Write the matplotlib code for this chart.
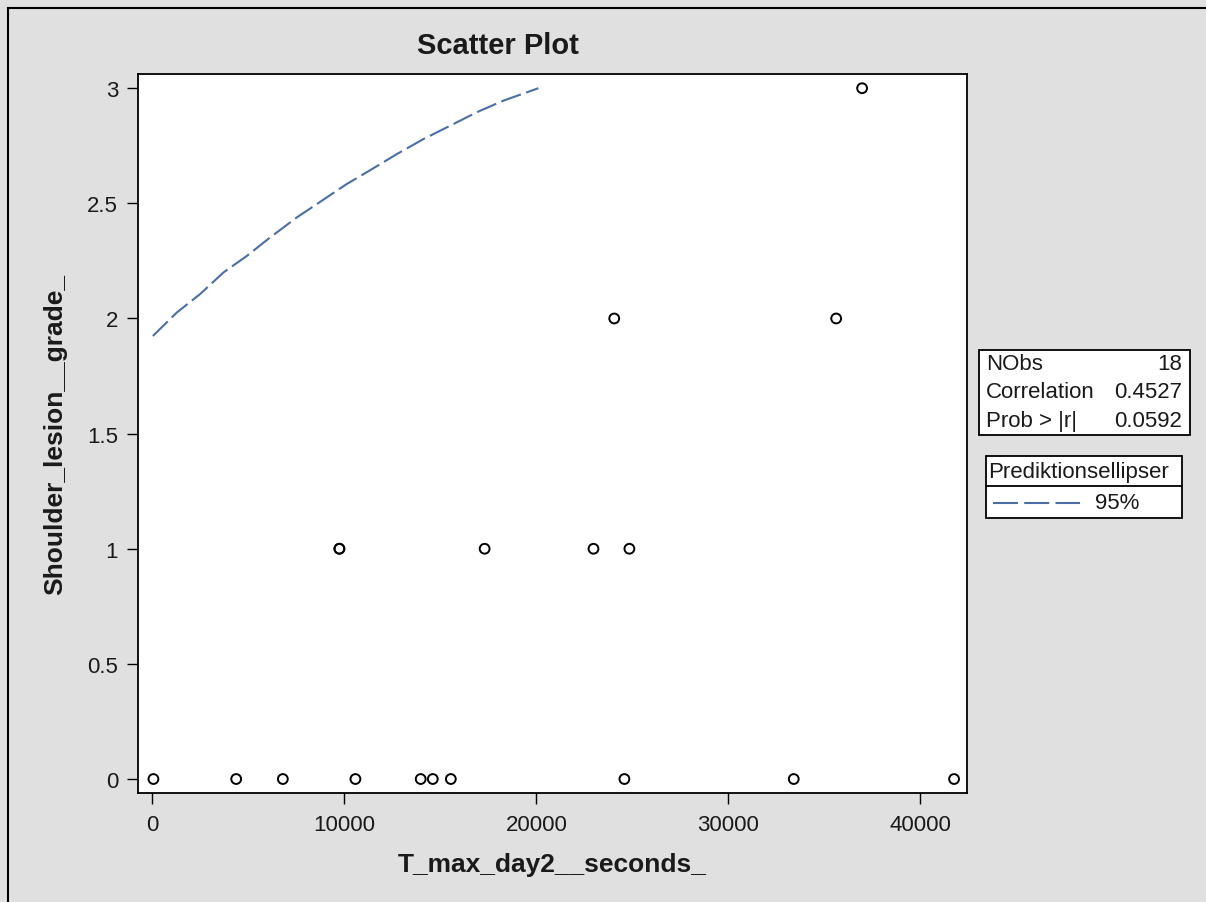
import matplotlib
matplotlib.use('Agg')
import matplotlib.pyplot as plt
from matplotlib.lines import Line2D
from matplotlib.patches import Rectangle

plt.rcParams['font.family'] = ['Liberation Sans', 'DejaVu Sans']
plt.rcParams['lines.scale_dashes'] = False

# data
x_vals = [50, 4360, 6790, 10570, 13970, 14600, 15540, 24580, 33400, 41750,
          9735, 9735, 17300, 22970, 24840,
          24050, 35610,
          36960]
y_vals = [0, 0, 0, 0, 0, 0, 0, 0, 0, 0,
          1, 1, 1, 1, 1,
          2, 2,
          3]

# visible part of the 95% prediction ellipse
ell_x = [20, 1270, 2480, 3700, 4920, 6130, 7520, 8690, 10120, 11300,
         12730, 14110, 15500, 16900, 18280, 20100]
ell_y = [1.924, 2.026, 2.106, 2.200, 2.272, 2.352, 2.439, 2.504, 2.584, 2.642,
         2.714, 2.779, 2.837, 2.896, 2.946, 3.000]

stat_names = ['NObs', 'Correlation', 'Prob > |r|']
stat_values = ['18', '0.4527', '0.0592']
legend_title = 'Prediktionsellipser'
legend_label = '95%'

x_ticks = [0, 10000, 20000, 30000, 40000]
y_ticks = [0, 0.5, 1, 1.5, 2, 2.5, 3]
y_ticklabels = ['0', '0.5', '1', '1.5', '2', '2.5', '3']

W, H = 1206, 903
bg = '#e0e0e0'
blue = '#4a6fa8'
txt = '#1a1a1a'


def fx(px):
    return px / W


def fy(py):
    return 1 - py / H


fig = plt.figure(figsize=(W / 100, H / 100), dpi=100, facecolor=bg)

# outer frame (only left and top are visible)
fig.add_artist(Line2D([fx(7.5), fx(7.5)], [fy(8.5), 0], color='black', lw=1.5))
fig.add_artist(Line2D([fx(7.5), 1], [fy(8.5), fy(8.5)], color='black', lw=1.5))

ax = fig.add_axes([fx(137.5), fy(794.3), (967.5 - 137.5) / W, (794.3 - 74.7) / H])
ax.set_facecolor('white')

ax.plot(ell_x, ell_y, color=blue, lw=1.5, dashes=(15, 4))
ax.scatter(x_vals, y_vals, s=50, facecolors='none', edgecolors='black',
           linewidths=1.4, zorder=3)

ax.set_xlim(-780, 42450)
ax.set_ylim(-0.062, 3.063)
ax.set_xticks(x_ticks)
ax.set_xticklabels([str(t) for t in x_ticks])
ax.set_yticks(y_ticks)
ax.set_yticklabels(y_ticklabels)
ax.tick_params(direction='out', length=8, width=1, labelsize=16,
               labelcolor=txt, color='black')
ax.tick_params(axis='x', pad=7)
ax.tick_params(axis='y', pad=6)
for s in ax.spines.values():
    s.set_linewidth(1.3)
    s.set_color('black')

ax.set_xlabel('T_max_day2__seconds_', fontsize=19, fontweight='bold',
              labelpad=12, color=txt)
ax.set_ylabel('Shoulder_lesion__grade_', fontsize=19, fontweight='bold',
              labelpad=14, color=txt)

fig.text(fx(498), fy(46), 'Scatter Plot', fontsize=21, fontweight='bold',
         ha='center', va='center', color=txt)

# statistics box
fig.add_artist(Rectangle((fx(978.5), fy(436)), fx(1190 - 978.5), (436 - 350.5) / H,
                         transform=fig.transFigure, facecolor='white',
                         edgecolor='black', lw=1.3))
rows_y = [365, 393, 422]
for name, val, py in zip(stat_names, stat_values, rows_y):
    fig.text(fx(986), fy(py), name, fontsize=16, ha='left', va='center', color=txt)
    fig.text(fx(1182), fy(py), val, fontsize=16, ha='right', va='center', color=txt)

# legend box
fig.add_artist(Rectangle((fx(985.5), fy(518.5)), fx(1181.5 - 985.5), (518.5 - 456.5) / H,
                         transform=fig.transFigure, facecolor='white',
                         edgecolor='black', lw=1.3))
fig.add_artist(Line2D([fx(985.5), fx(1181.5)], [fy(487), fy(487)], color='black', lw=1.3))
fig.text(fx(988), fy(472.5), legend_title, fontsize=16, ha='left', va='center', color=txt)
leg_line = Line2D([fx(993), fx(1080)], [fy(503.5), fy(503.5)], color=blue, lw=1.5)
leg_line.set_dashes((18, 4.5))
fig.add_artist(leg_line)
fig.text(fx(1095), fy(503.5), legend_label, fontsize=16, ha='left', va='center', color=txt)

fig.savefig('out.png', dpi=100, facecolor=bg)
